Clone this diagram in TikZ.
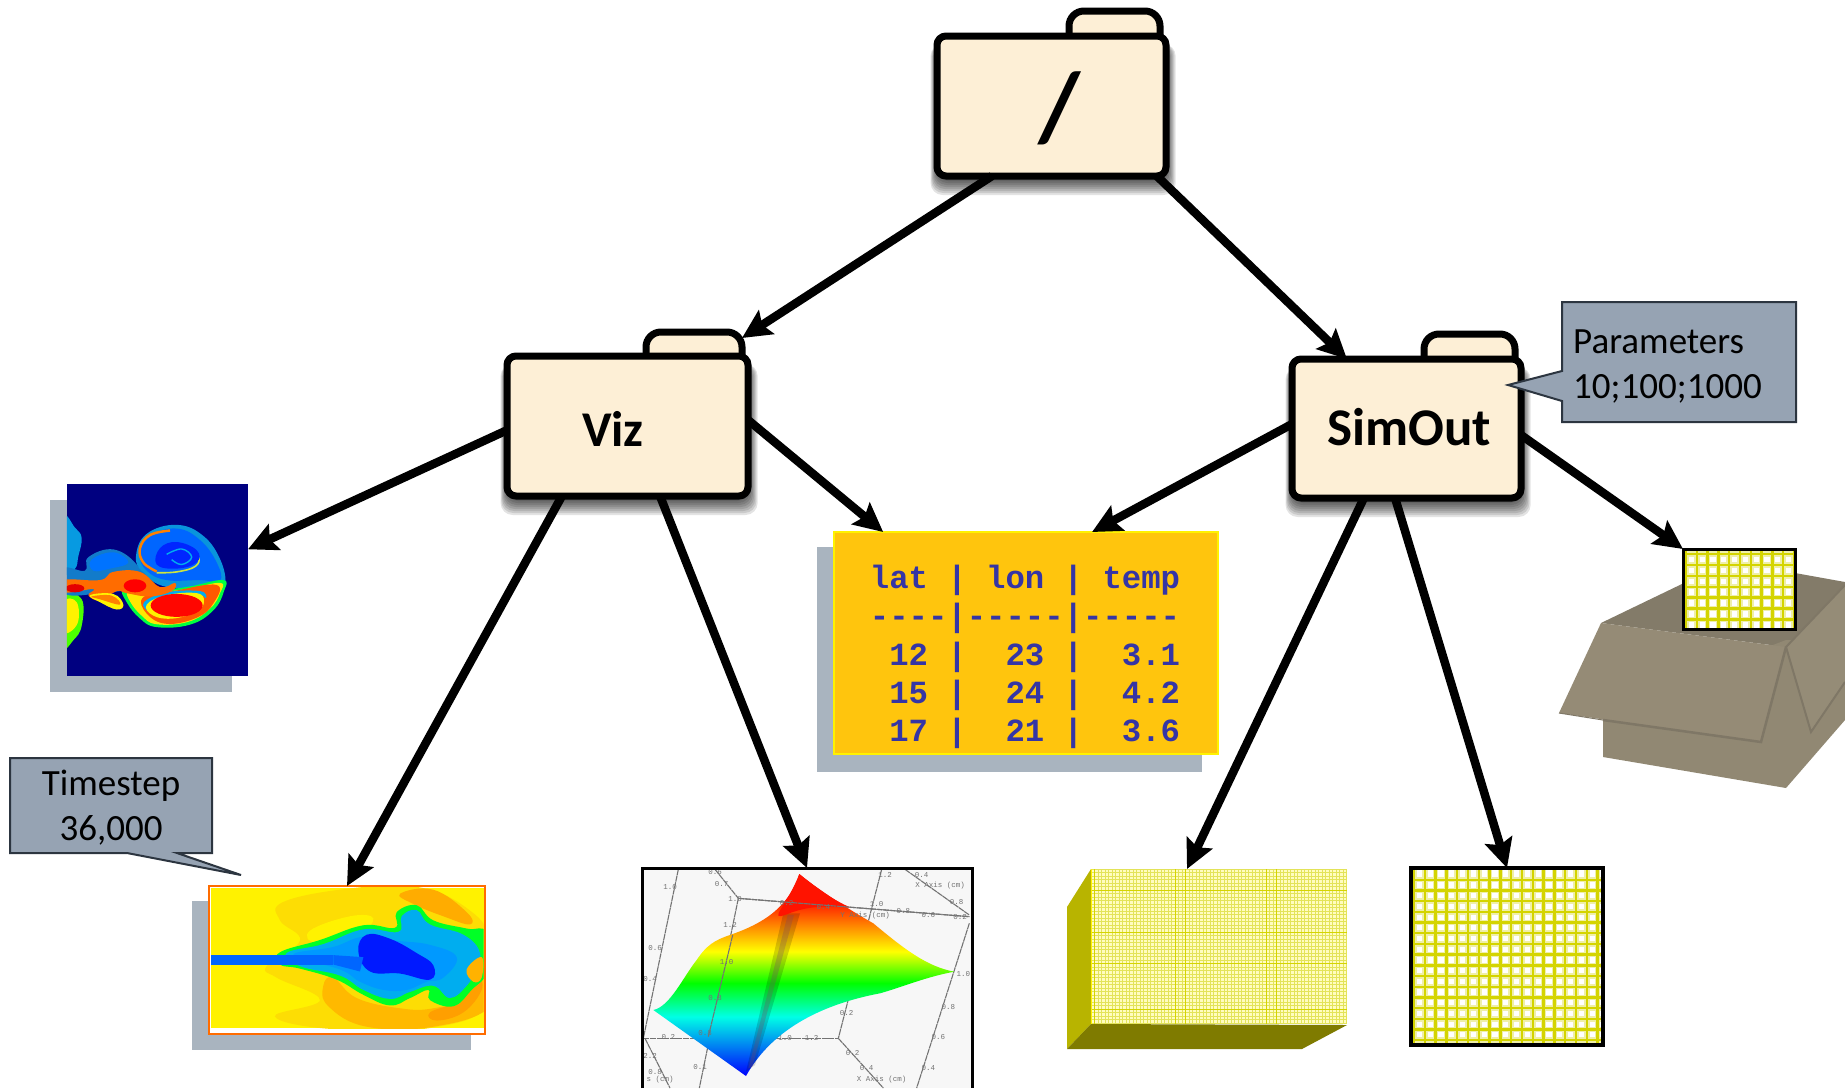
\documentclass[tikz,border=0pt]{standalone}
\usepackage{fontspec}
\setmainfont{Carlito}
\newfontfamily\tabfam{Liberation Mono}
\newfontfamily\axisfam{Liberation Mono}
\usetikzlibrary{arrows.meta,calc}
\definecolor{foldfill}{HTML}{FDEFD6}
\definecolor{imgshadow}{HTML}{A9B4BF}
\definecolor{noteblue}{HTML}{96A3B3}
\definecolor{notedark}{HTML}{2C3540}
\definecolor{gridyel}{HTML}{D4D400}
\definecolor{gridhalo}{HTML}{EFEFA8}
\definecolor{tabletext}{HTML}{3535A5}
\definecolor{tablefill}{HTML}{FFC50D}
\definecolor{navyimg}{HTML}{000080}
\definecolor{cubeside}{HTML}{B8B400}
\definecolor{cubebase}{HTML}{7F7B00}
\definecolor{boxin}{HTML}{837B69}
\definecolor{boxfront}{HTML}{958B76}
\definecolor{boxbody}{HTML}{918873}
\definecolor{boxside}{HTML}{958C77}
\definecolor{boxline}{HTML}{7F7766}
\pgfdeclareverticalshading{surfrain}{100bp}{
 color(0bp)=(blue); color(25bp)=(blue); color(39.7bp)=(cyan!90!green); color(48bp)=(green);
 color(55.8bp)=(yellow); color(69.4bp)=(red); color(100bp)=(red)}
\tikzset{
 conn/.style={line width=8.5pt,-{Stealth[length=29pt,width=28pt,inset=5pt]},black},
 foldline/.style={draw=black,line width=7pt,fill=foldfill},
 folderbody/.style={foldline,rectangle,rounded corners=9pt,inner sep=0pt,outer sep=0pt},
 foldlabel/.style={font=\bfseries\fontsize{53}{60}\selectfont,text=black,inner sep=0pt},
 imgbox/.style={rectangle,inner sep=0pt,outer sep=0pt},
 note/.style={draw=notedark,line width=2pt,fill=noteblue,line join=miter},
 notetext/.style={font=\fontsize{37}{45}\selectfont,text=black,inner sep=0pt},
 axistxt/.style={font=\axisfam\fontsize{7.5}{8}\selectfont,text=black!55,inner sep=0pt},
 axisln/.style={draw=black!55,line width=1.1pt,dash pattern=on 6pt off .6pt},
 plumeA/.style={smooth cycle,tension=.7},
}
% name, left, top, right, bottom, tab left, tab right, tab top
\newcommand\myfolder[8]{%
 \foreach \g in {0,...,8}{\fill[black,opacity=.11,rounded corners=12pt]
   ({#2-\g*.8},{#3+8}) rectangle ({#4+\g*1.2},{#5+3+\g*2});}
 \draw[foldline,rounded corners=15pt] (#6,{#3+10}) -- (#6,#8) -- (#7,#8) -- (#7,{#3+10});
 \node[folderbody,minimum width={(#4-#2)*1pt},minimum height={(#5-#3)*1pt}] (#1) at ({(#2+#4)/2},{(#3+#5)/2}) {};
}
\begin{document}
\begin{tikzpicture}[x=1pt,y=-1pt]
\useasboundingbox (0,0) rectangle (1845,1088);
\fill[white] (0,0) rectangle (1845,1088);

%% image shadows
\fill[imgshadow] (50,500) rectangle (232,692);
\fill[imgshadow] (192,901) rectangle (471,1050);
\fill[imgshadow] (817,547) rectangle (1202,772);

%% vortex image
\node[imgbox,fill=navyimg,minimum width=181pt,minimum height=192pt] (blueimg) at (157.5,580) {};
\begin{scope}[shift={(0,450)},x=.33333pt,y=-.409pt]
 \clip (201,84) rectangle (744,552);
 \fill[cyan!85!blue] plot[plumeA] coordinates {(190,165) (225,190) (245,215) (235,260) (225,290) (190,295)};
 \fill[green!70!yellow] plot[plumeA] coordinates {(190,360) (245,365) (245,430) (220,465) (190,478)};
 \fill[yellow] plot[plumeA] coordinates {(190,372) (230,372) (232,425) (190,445)};
 \fill[cyan!60!blue] plot[plumeA] coordinates {(190,290) (255,295) (265,262) (340,243) (410,280) (430,330) (300,350) (190,350)};
 \fill[blue!55!cyan] plot[plumeA] coordinates {(275,268) (340,250) (385,275) (330,290) (280,295)};
 \fill[cyan!80!blue] plot[plumeA] coordinates {(408,260) (440,205) (530,183) (610,210) (662,270) (675,330) (640,340) (500,335) (430,300)};
 \fill[blue!60!cyan] plot[plumeA] coordinates {(420,255) (450,210) (530,192) (600,220) (650,275) (660,320) (600,318) (500,318) (440,295)};
 \draw[orange,line width=2.5pt] plot[smooth,tension=.7] coordinates {(470,297) (430,275) (420,240) (450,208) (510,197)};
 \draw[yellow!80!cyan,line width=1.6pt] plot[smooth,tension=.7] coordinates {(470,300) (530,298) (585,285) (595,262) (560,242) (525,250)};
 \fill[blue!85!cyan] plot[plumeA] coordinates {(480,240) (530,225) (590,245) (590,275) (530,290) (470,280)};
 \draw[cyan,line width=1.4pt] plot[smooth,tension=.7] coordinates {(500,255) (545,242) (575,262) (545,280) (515,268)};
 \fill[green!75!cyan] plot[plumeA] coordinates {(370,340) (440,345) (560,335) (668,318) (672,345) (640,392) (570,427) (470,433) (420,412) (380,372)};
 \fill[yellow!90!orange] plot[plumeA] coordinates {(385,345) (440,350) (560,340) (660,325) (660,350) (630,388) (565,420) (470,426) (425,405) (390,370)};
 \fill[orange!70!red] plot[plumeA] coordinates {(430,360) (520,345) (650,330) (640,375) (590,410) (500,425) (440,400)};
 \fill[cyan] plot[plumeA] coordinates {(432,372) (500,348) (600,345) (618,362) (590,352) (500,358) (450,382) (445,395)};
 \fill[yellow] plot[plumeA] coordinates {(440,378) (500,355) (590,350) (612,370) (590,395) (520,412) (460,405)};
 \fill[red!95!orange] (530,380) ellipse [x radius=78,y radius=28];
 \fill[orange!85!red] plot[plumeA] coordinates {(190,318) (300,318) (340,298) (420,298) (480,335) (525,325) (515,345) (450,358) (380,350) (350,345) (300,368) (265,355) (280,340) (190,348)};
 \fill[yellow] plot[plumeA] coordinates {(270,355) (340,352) (370,378) (350,390) (300,372)};
 \fill[orange] plot[plumeA] coordinates {(275,358) (335,356) (360,378) (300,365)};
 \fill[red] (405,332) ellipse [x radius=34,y radius=16];
 \fill[red!90!black] (225,338) ellipse [x radius=28,y radius=10];
\end{scope}

%% jet image
\node[imgbox,fill=white,draw=orange!85!red,line width=2.5pt,minimum width=276pt,minimum height=148pt] (jetimg) at (347,960) {};
\begin{scope}[shift={(0,450)},x=.33333pt,y=-.409pt]
 \fill[yellow] (633,1070) rectangle (1451,1414);
 \clip (633,1070) rectangle (1451,1414);
 \fill[yellow!80!orange] plot[plumeA] coordinates {(850,1105) (1050,1072) (1250,1068) (1400,1120) (1470,1200) (1470,1350) (1300,1412) (1000,1416) (825,1385) (960,1345) (830,1290) (800,1262) (900,1200) (840,1150)};
 \fill[yellow] plot[plumeA] coordinates {(930,1175) (1050,1140) (1120,1145) (1070,1185) (950,1205)};
 \fill[orange!65!yellow] plot[plumeA] coordinates {(1200,1085) (1300,1075) (1400,1130) (1410,1160) (1330,1140) (1240,1110)};
 \fill[orange!55!yellow] plot[plumeA] coordinates {(1000,1290) (1070,1340) (1200,1365) (1300,1365) (1410,1335) (1460,1260) (1470,1360) (1300,1410) (1100,1410) (985,1360) (970,1310)};
 \fill[orange!75!yellow] plot[plumeA] coordinates {(1290,1375) (1380,1345) (1430,1290) (1445,1320) (1390,1375) (1310,1395)};
 \fill[green!85!cyan] plot[plumeA] coordinates {(840,1228) (960,1198) (1090,1162) (1185,1168) (1190,1130) (1250,1113) (1300,1150) (1400,1170) (1460,1180) (1460,1275) (1415,1320) (1360,1360) (1290,1345) (1285,1320) (1230,1340) (1170,1358) (1090,1332) (1010,1295) (900,1268) (840,1258)};
 \fill[cyan] plot[plumeA] coordinates {(860,1230) (970,1208) (1090,1172) (1195,1178) (1205,1140) (1250,1125) (1290,1160) (1390,1185) (1440,1230) (1420,1280) (1400,1310) (1350,1340) (1300,1310) (1230,1325) (1170,1342) (1090,1320) (1020,1285) (900,1262)};
 \fill[blue!40!cyan] plot[plumeA] coordinates {(880,1235) (1000,1215) (1090,1190) (1190,1200) (1290,1210) (1370,1240) (1330,1290) (1280,1300) (1220,1320) (1150,1320) (1080,1300) (1020,1270)};
 \fill[blue!90!cyan] plot[plumeA] coordinates {(1075,1225) (1100,1185) (1170,1195) (1250,1230) (1300,1260) (1290,1295) (1200,1280) (1110,1275)};
 \fill[blue!60!cyan] (633,1235) rectangle (1000,1258);
 \fill[blue!60!cyan] (1000,1235) -- (1090,1240) -- (1080,1275) -- (1000,1258) -- cycle;
 \fill[orange!60!yellow] plot[plumeA] coordinates {(1400,1270) (1445,1240) (1445,1290) (1420,1300)};
\end{scope}

%% surface plot
\node[imgbox,fill=black!3,minimum width=330pt,minimum height=220pt] (surfimg) at (807,978) {};
\begin{scope}[shift={(620,820)},x=.33333pt,y=-.33333pt]
 \draw[axisln] (175,148) -- (70,655);
 \draw[axisln] (355,235) -- (238,804);
 \draw[axisln] (785,148) -- (655,655);
 \draw[axisln] (1048,310) -- (890,804);
 \draw[axisln] (355,235) -- (1048,290);
 \draw[axisln] (70,655) -- (655,655);
 \draw[axisln] (285,148) -- (355,235);
 \draw[axisln] (855,148) -- (1048,285);
 \draw[axisln] (655,655) -- (790,804);
 \draw[axisln] (75,655) -- (150,804);
 \foreach \px/\py/\tx [count=\n] in {150/200/1.0,285/155/0.6,305/193/0.7,345/238/1.0,330/315/1.2,105/385/0.6,90/478/0.4,145/650/0.2,240/742/0.1,795/165/1.2,905/165/0.4,960/198/X Axis (cm),1010/245/0.8,1030/463/1.0,985/560/0.8,955/652/0.6,925/743/0.4,680/580/0.2,698/700/0.2,740/745/0.4,785/778/X Axis (cm),575/655/1.2,495/655/1.0,120/780/s (cm),105/755/0.8,90/708/2.2}
  {\node[axistxt] (axl\n) at (\px,\py) {\tx};}
 \shade[shading=surfrain] (538,162) .. controls (590,205) and (680,265) .. (760,310) .. controls (850,385) and (920,440) .. (1003,455) .. controls (920,470) and (850,500) .. (780,520) .. controls (620,550) and (460,620) .. (378,768) -- (100,570) .. controls (150,560) and (190,470) .. (230,420) .. controls (260,375) and (285,360) .. (330,345) .. controls (400,320) and (500,280) .. (538,162) -- cycle;
 \fill[black,opacity=.16] (490,280) -- (540,280) -- (405,735) -- (378,755) -- cycle;
 \fill[black!60!magenta,opacity=.28] (503,285) -- (522,285) -- (397,740) -- (385,745) -- cycle;
 \fill[red!85!orange] (538,162) .. controls (590,205) and (640,240) .. (690,262) .. controls (640,262) and (580,250) .. (500,283) .. controls (440,305) and (500,260) .. (538,162) -- cycle;
 \draw[axisln] (355,235) -- (1048,290);
 \draw[axisln] (338,345) -- (265,650);
 \foreach \px/\py/\tx [count=\n] in {320/425/1.0,285/535/0.8,255/640/0.8,500/250/0.2,610/260/0.4,770/252/1.0,850/272/0.8,925/285/0.6,1020/292/0.2,735/287/Y Axis (cm)}
  {\node[axistxt] (axm\n) at (\px,\py) {\tx};}
\end{scope}
\draw[black,line width=3pt] (642,1088) -- (642,868) -- (972,868) -- (972,1088);

%% table
\node[imgbox,fill=tablefill,draw=yellow,line width=2.5pt,minimum width=384pt,minimum height=222pt] (tablebox) at (1026,643) {};
\node[font=\tabfam\bfseries\fontsize{32.3}{38.25}\selectfont,text=tabletext,align=left,inner sep=0pt] (tabletxt) at (1025,657)
 {lat | lon | temp\\----|-----|-----\\~12 |~~23 |~~3.1\\~15 |~~24 |~~4.2\\~17 |~~21 |~~3.6};

%% big grid block
\fill[cubeside] (1067,907) -- (1091,869) -- (1091,1024) -- (1067,1049) -- cycle;
\fill[cubebase] (1091,1024) -- (1347,1025) -- (1302,1049) -- (1067,1049) -- cycle;
\node[imgbox,fill=yellow!25,minimum width=256pt,minimum height=155pt] (cubeimg) at (1219,946.5) {};
\begin{scope}
 \clip (1091,869) rectangle (1347,1024);
 \foreach \i in {0,...,74}{\draw[gridyel!65,line width=.7pt] ({1091+\i*3.5},869) -- ({1091+\i*3.5},1024);}
 \foreach \i in {0,...,45}{\draw[gridyel!65,line width=.7pt] (1091,{869+\i*3.5}) -- (1347,{869+\i*3.5});}
 \foreach \i in {1,24,27,50,53}{\draw[gridyel,line width=1pt] ({1091+\i*3.5},869) -- ({1091+\i*3.5},1024);}
 \foreach \i in {6,18,27,40}{\draw[gridyel,line width=.9pt] (1091,{869+\i*3.5}) -- (1347,{869+\i*3.5});}
 \draw[yellow,line width=1.5pt] (1091,869) -- (1091,1024);
\end{scope}

%% coarse grid
\node[imgbox,fill=white,minimum width=192pt,minimum height=177pt] (bigrid) at (1507,956.5) {};
\begin{scope}
 \clip (1411,868) rectangle (1603,1045);
 \foreach \i in {0,...,18}{\draw[gridhalo,line width=5.5pt] ({1414+\i*10.8},868) -- ({1414+\i*10.8},1045);}
 \foreach \i in {0,...,16}{\draw[gridhalo,line width=5.5pt] (1411,{879.7+\i*10.7}) -- (1603,{879.7+\i*10.7});}
 \foreach \i in {0,...,18}{\draw[gridyel,line width=2.4pt] ({1414+\i*10.8},868) -- ({1414+\i*10.8},1045);}
 \foreach \i in {0,...,16}{\draw[gridyel,line width=2.4pt] (1411,{879.7+\i*10.7}) -- (1603,{879.7+\i*10.7});}
\end{scope}
\draw[black,line width=3.2pt] (bigrid.south west) rectangle (bigrid.north east);

%% carton
\fill[boxin] (1601,623) -- (1684,583) -- (1795,573) -- (1845,582) -- (1845,590) -- (1786,647) -- cycle;
\fill[boxbody] (1603,710) -- (1603,757) -- (1786,788) -- (1845,720) -- (1845,640) -- (1786,640) -- cycle;
\fill[boxside,draw=boxline,line width=2pt] (1845,585) -- (1786,647) -- (1811,732) -- (1845,682);
\fill[boxfront] (1601,623) -- (1786,647) -- (1761,742) -- (1559,713) -- cycle;
\draw[boxline,line width=2.5pt] (1786,647) -- (1761,742) -- (1603,720);
\draw[boxline,line width=1pt] (1559,713) -- (1603,720);

%% small grid
\node[imgbox,fill=white,minimum width=112pt,minimum height=80pt] (smallgrid) at (1739,589) {};
\begin{scope}
 \clip (1683,549) rectangle (1795,629);
 \foreach \i in {0,...,10}{\draw[gridhalo,line width=5.5pt] ({1686+\i*10.8},549) -- ({1686+\i*10.8},629);}
 \foreach \i in {0,...,7}{\draw[gridhalo,line width=5.5pt] (1683,{554+\i*10.9}) -- (1795,{554+\i*10.9});}
 \foreach \i in {0,...,10}{\draw[gridyel,line width=2.4pt] ({1686+\i*10.8},549) -- ({1686+\i*10.8},629);}
 \foreach \i in {0,...,7}{\draw[gridyel,line width=2.4pt] (1683,{554+\i*10.9}) -- (1795,{554+\i*10.9});}
\end{scope}
\draw[black,line width=3pt] (smallgrid.south west) rectangle (smallgrid.north east);

%% folders
\myfolder{root}{937}{36}{1166}{176}{1069}{1160}{11}
\myfolder{viz}{507}{356}{748}{496}{646}{742}{332}
\myfolder{simout}{1292}{359}{1521}{498}{1424}{1515}{334}
\node[foldlabel,font=\bfseries\fontsize{98}{110}\selectfont] (rootlabel) at (1060,108) {/};
\node[foldlabel,font=\bfseries\fontsize{50}{60}\selectfont] (vizlabel) at (613,429) {Viz};
\node[foldlabel] (simoutlabel) at (1409,427) {SimOut};

%% connectors
\draw[conn] ($(root.south west)!.24!(root.south east)$) -- ($(viz.north east)+(-6,-18)$);
\draw[conn] ($(root.south west)!.96!(root.south east)$) -- ($(simout.north west)!.24!(simout.north east)$);
\draw[conn] ($(viz.north west)!.53!(viz.south west)$) -- ($(blueimg.north east)!.34!(blueimg.south east)$);
\draw[conn] ($(viz.north east)!.457!(viz.south east)$) -- ($(tablebox.north west)!.128!(tablebox.north east)$);
\draw[conn] ($(viz.south west)!.228!(viz.south east)$) -- (jetimg.north);
\draw[conn] ($(viz.south west)!.635!(viz.south east)$) -- (surfimg.north);
\draw[conn] ($(simout.north west)!.468!(simout.south west)$) -- ($(tablebox.north west)!.672!(tablebox.north east)$);
\draw[conn] ($(simout.south west)!.314!(simout.south east)$) -- ($(cubeimg.north west)!.375!(cubeimg.north east)$);
\draw[conn] ($(simout.south west)!.45!(simout.south east)$) -- (bigrid.north);
\draw[conn] ($(simout.north east)!.547!(simout.south east)$) -- (smallgrid.north west);

%% callouts
\draw[note] (1562,302) -- (1796,302) -- (1796,422) -- (1562,422) -- (1562,401) -- (1508,385) -- (1562,371) -- cycle;
\node[notetext,align=left,anchor=west] (paramtext) at (1573,366) {Parameters\\10;100;1000};
\draw[note] (10,758) -- (212,758) -- (212,853) -- (177,853) -- (241,875) -- (127,853) -- (10,853) -- cycle;
\node[notetext,align=center] (steptext) at (111,808) {Timestep\\36,000};
\end{tikzpicture}
\end{document}
